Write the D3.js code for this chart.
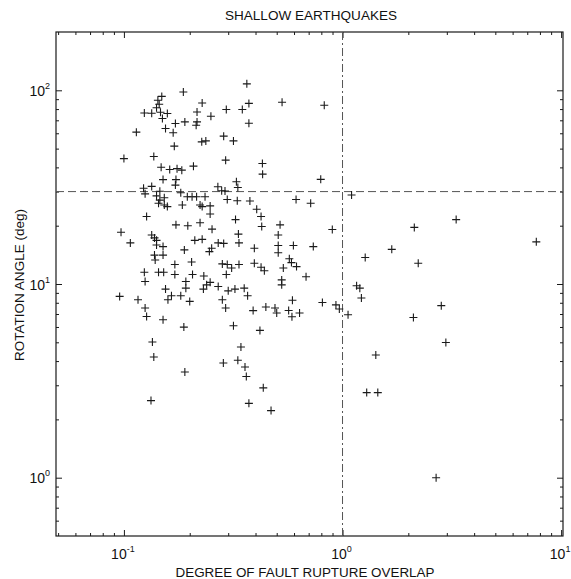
<!DOCTYPE html>
<html>
<head>
<meta charset="utf-8">
<script src="https://cdn.jsdelivr.net/npm/d3@7"></script>
<style>
  body { margin: 0; background: #fff; }
  text { font-family: "Liberation Sans", Arial, sans-serif; fill: #111; }
</style>
</head>
<body>
<svg id="chart" width="571" height="579"></svg>
<script>
// Degree of fault rupture overlap (x) and rotation angle in degrees (y), one pair per event
const quakes = [
  [0.187, 98], [0.149, 93], [0.143, 88.8], [0.145, 84.7], [0.141, 81.3],
  [0.124, 76.4], [0.134, 76.1], [0.147, 77.0], [0.158, 75.9], [0.150, 71.5],
  [0.216, 77.3], [0.228, 86.0], [0.250, 73.5], [0.294, 79.6], [0.172, 67.4],
  [0.190, 68.7], [0.216, 68.7], [0.214, 66.0], [0.155, 63.5], [0.168, 60.4],
  [0.114, 60.8], [0.170, 51.5], [0.227, 54.2], [0.237, 54.8], [0.286, 58.0],
  [0.100, 44.4], [0.137, 45.5], [0.292, 43.6], [0.148, 40.1], [0.162, 39.0],
  [0.175, 39.4], [0.184, 38.7], [0.208, 40.6], [0.151, 34.6], [0.173, 34.6],
  [0.172, 32.4], [0.123, 31.2], [0.134, 31.9], [0.125, 29.2], [0.146, 30.1],
  [0.182, 29.6], [0.269, 31.8], [0.280, 30.3], [0.290, 30.2], [0.141, 28.5],
  [0.146, 27.1], [0.153, 27.9], [0.195, 28.2], [0.205, 28.2], [0.215, 28.2],
  [0.235, 28.2], [0.297, 27.3], [0.144, 26.1], [0.153, 25.6], [0.158, 25.1],
  [0.185, 25.6], [0.223, 25.6], [0.228, 25.1], [0.248, 25.3], [0.248, 23.0],
  [0.127, 22.3], [0.173, 20.2], [0.196, 20.0], [0.223, 20.7], [0.253, 19.2],
  [0.097, 18.5], [0.134, 17.9], [0.138, 17.3], [0.141, 16.8], [0.107, 16.3],
  [0.211, 16.8], [0.228, 17.0], [0.270, 16.3], [0.286, 16.2],
  [0.365, 108], [0.348, 79.6], [0.373, 85.6], [0.529, 86.7], [0.825, 83.7],
  [0.373, 67.6], [0.317, 54.8], [0.430, 41.9], [0.431, 36.9], [0.795, 34.7],
  [0.327, 33.7], [0.332, 31.5], [0.330, 26.9], [0.377, 26.8], [0.613, 27.3],
  [0.715, 26.1], [0.405, 24.3], [0.424, 22.3], [0.324, 21.5], [0.427, 19.8],
  [0.518, 20.2], [0.508, 17.9], [0.334, 18.1], [0.898, 19.1], [0.336, 16.3],
  [0.596, 15.8], [0.735, 15.6],
  [1.10, 28.8], [2.13, 19.6], [3.31, 21.5], [1.68, 15.1], [1.27, 13.7],
  [2.22, 12.8], [2.83, 7.73], [2.11, 6.72], [2.97, 4.99], [1.16, 9.79],
  [1.20, 9.52], [1.22, 8.46], [1.06, 6.94], [0.933, 7.80], [0.967, 7.43],
  [0.809, 8.03], [1.42, 4.3], [1.29, 2.75], [1.45, 2.75], [2.68, 1.0],
  [7.7, 16.5],
  [0.141, 15.9], [0.151, 15.6], [0.138, 14.1], [0.151, 14.1], [0.139, 13.3],
  [0.189, 15.0], [0.252, 15.3], [0.246, 14.7], [0.204, 13.0], [0.171, 12.6],
  [0.124, 11.5], [0.125, 10.3], [0.144, 11.5], [0.152, 11.5], [0.171, 11.2],
  [0.206, 11.2], [0.192, 10.3], [0.232, 11.0], [0.248, 10.2], [0.239, 9.9],
  [0.231, 9.41], [0.270, 9.71], [0.300, 9.22], [0.155, 9.41], [0.192, 9.52],
  [0.165, 8.70], [0.159, 8.29], [0.182, 8.70], [0.200, 8.13], [0.282, 8.29],
  [0.292, 7.52], [0.0956, 8.63], [0.116, 8.29], [0.125, 7.52], [0.127, 6.80],
  [0.151, 6.54], [0.188, 5.99], [0.135, 5.02], [0.137, 4.20], [0.190, 3.51],
  [0.285, 3.91], [0.133, 2.50], [0.282, 12.7], [0.297, 12.6], [0.311, 12.1],
  [0.294, 11.2], [0.395, 15.3], [0.508, 15.8], [0.508, 14.5], [0.336, 12.6],
  [0.395, 12.8], [0.424, 12.2], [0.439, 11.7], [0.536, 12.1], [0.571, 13.5],
  [0.584, 12.9], [0.616, 12.3], [0.681, 10.9], [0.527, 10.5], [0.527, 9.90],
  [0.322, 9.41], [0.355, 9.52], [0.368, 8.70], [0.590, 8.25], [0.390, 7.29],
  [0.446, 7.61], [0.491, 7.52], [0.500, 7.09], [0.567, 7.30], [0.587, 6.78],
  [0.636, 7.09], [0.317, 6.09], [0.419, 5.76], [0.343, 4.73], [0.332, 4.04],
  [0.358, 3.73], [0.363, 3.33], [0.434, 2.91], [0.373, 2.42], [0.471, 2.22]
];

// Axis ranges and tick marks
const xDomain = [0.0489, 10.2];
const yDomain = [0.5, 200];
const xMajorTicks = [0.1, 1, 10];
const yMajorTicks = [1, 10, 100];
const xTickLabels = [["10", "-1"], ["10", "0"], ["10", "1"]];
const yTickLabels = [["10", "0"], ["10", "1"], ["10", "2"]];
const xMinorTicks = [0.05, 0.06, 0.07, 0.08, 0.09, 0.2, 0.3, 0.4, 0.5, 0.6, 0.7, 0.8, 0.9,
                     2, 3, 4, 5, 6, 7, 8, 9];
const yMinorTicks = [0.6, 0.7, 0.8, 0.9, 2, 3, 4, 5, 6, 7, 8, 9,
                     20, 30, 40, 50, 60, 70, 80, 90];

// Reference thresholds
const overlapThreshold = 1;
const angleThreshold = 30;

const titleText = "SHALLOW EARTHQUAKES";
const xTitle = "DEGREE OF FAULT RUPTURE OVERLAP";
const yTitle = "ROTATION ANGLE (deg)";

(function draw() {
  const svg = d3.select("#chart");
  const mLeft = 56, mRight = 563, mTop = 32, mBottom = 536;

  const x = d3.scaleLog().domain(xDomain).range([mLeft, mRight]);
  const y = d3.scaleLog().domain(yDomain).range([mBottom, mTop]);

  const ink = "#1a1a1a";

  // Inward tick marks on all four sides
  function addAxis(axis, transform) {
    const g = svg.append("g").attr("transform", transform).call(axis);
    g.select(".domain").remove();
    g.selectAll(".tick line").attr("stroke", ink).attr("stroke-width", 1);
    g.selectAll(".tick text").remove();
    return g;
  }
  addAxis(d3.axisBottom(x).tickValues(xMajorTicks).tickSize(-6), `translate(0,${mBottom})`);
  addAxis(d3.axisBottom(x).tickValues(xMinorTicks).tickSize(-3), `translate(0,${mBottom})`);
  addAxis(d3.axisTop(x).tickValues(xMajorTicks).tickSize(-6), `translate(0,${mTop})`);
  addAxis(d3.axisTop(x).tickValues(xMinorTicks).tickSize(-3), `translate(0,${mTop})`);
  addAxis(d3.axisLeft(y).tickValues(yMajorTicks).tickSize(-6), `translate(${mLeft},0)`);
  addAxis(d3.axisLeft(y).tickValues(yMinorTicks).tickSize(-3), `translate(${mLeft},0)`);
  addAxis(d3.axisRight(y).tickValues(yMajorTicks).tickSize(-6), `translate(${mRight},0)`);
  addAxis(d3.axisRight(y).tickValues(yMinorTicks).tickSize(-3), `translate(${mRight},0)`);

  // Plot frame
  svg.append("rect")
    .attr("x", mLeft).attr("y", mTop)
    .attr("width", mRight - mLeft).attr("height", mBottom - mTop)
    .attr("fill", "none").attr("stroke", ink).attr("stroke-width", 1.2);

  // Threshold lines
  svg.append("line")
    .attr("x1", mLeft).attr("x2", mRight)
    .attr("y1", y(angleThreshold)).attr("y2", y(angleThreshold))
    .attr("stroke", "#555").attr("stroke-width", 1)
    .attr("stroke-dasharray", "8,4");
  svg.append("line")
    .attr("x1", x(overlapThreshold)).attr("x2", x(overlapThreshold))
    .attr("y1", mTop).attr("y2", mBottom)
    .attr("stroke", "#555").attr("stroke-width", 1)
    .attr("stroke-dasharray", "8,3,2,3");

  // Power-of-ten tick labels
  svg.selectAll(".xlab").data(xMajorTicks).enter().append("text")
    .attr("class", "xlab")
    .attr("x", d => x(d) - 1).attr("y", 559)
    .attr("text-anchor", "middle").attr("font-size", 14)
    .each(function (d, i) {
      const t = d3.select(this);
      t.append("tspan").text(xTickLabels[i][0]);
      t.append("tspan").attr("dy", -7).attr("font-size", 9).text(xTickLabels[i][1]);
    });
  svg.selectAll(".ylab").data(yMajorTicks).enter().append("text")
    .attr("class", "ylab")
    .attr("x", mLeft - 6).attr("y", d => y(d) + 5.5)
    .attr("text-anchor", "end").attr("font-size", 14)
    .each(function (d, i) {
      const t = d3.select(this);
      t.append("tspan").text(yTickLabels[i][0]);
      t.append("tspan").attr("dy", -7).attr("font-size", 9).text(yTickLabels[i][1]);
    });

  // Titles
  svg.append("text").attr("x", 311).attr("y", 20)
    .attr("text-anchor", "middle").attr("font-size", 12.5)
    .attr("textLength", 172).attr("lengthAdjust", "spacingAndGlyphs")
    .text(titleText);
  svg.append("text").attr("x", 305).attr("y", 577)
    .attr("text-anchor", "middle").attr("font-size", 12.5)
    .attr("textLength", 259).attr("lengthAdjust", "spacingAndGlyphs")
    .text(xTitle);
  svg.append("text")
    .attr("transform", "translate(24,285) rotate(-90)")
    .attr("text-anchor", "middle").attr("font-size", 12.5)
    .attr("textLength", 152).attr("lengthAdjust", "spacingAndGlyphs")
    .text(yTitle);

  // Events as plus markers
  svg.append("g").selectAll("path").data(quakes).enter().append("path")
    .attr("transform", d => `translate(${x(d[0])},${y(d[1])})`)
    .attr("d", "M-4,0H4M0,-4V4")
    .attr("stroke", ink).attr("stroke-width", 1.1).attr("fill", "none");
})();
</script>
</body>
</html>
